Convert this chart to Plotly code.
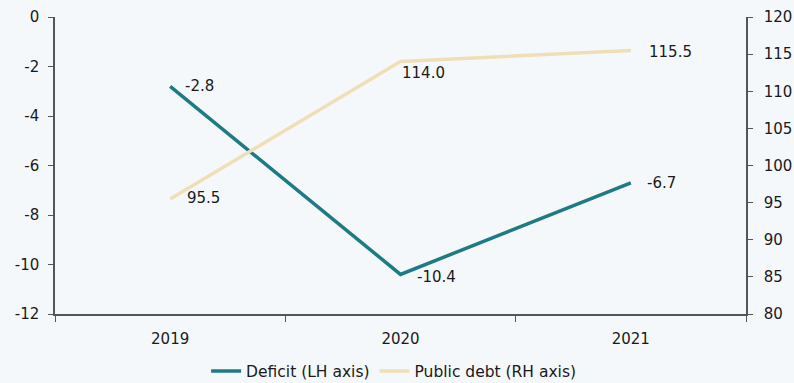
import plotly.graph_objects as go

years = ["2019", "2020", "2021"]
deficit = [-2.8, -10.4, -6.7]
debt = [95.5, 114.0, 115.5]
deficit_labels = ["-2.8", "-10.4", "-6.7"]
debt_labels = ["95.5", "114.0", "115.5"]
left_ticks = [0, -2, -4, -6, -8, -10, -12]
right_ticks = [80, 85, 90, 95, 100, 105, 110, 115, 120]

bg = "#F5F8FA"
axc = "#555555"
fam = "DejaVu Sans, Liberation Sans, Arial, sans-serif"
font = dict(family=fam, size=15, color="#1a1a1a")

fig = go.Figure()
fig.add_trace(go.Scatter(
    x=years, y=deficit, name="Deficit (LH axis)", mode="lines",
    line=dict(color="#1E7B85", width=3.5), yaxis="y"))
fig.add_trace(go.Scatter(
    x=years, y=debt, name="Public debt (RH axis)", mode="lines",
    line=dict(color="#F0DFB6", width=3.5), yaxis="y2"))

def_xshift = [13, 14, 14]
def_yshift = [0, -3, 0]
for i, (v, t) in enumerate(zip(deficit, deficit_labels)):
    fig.add_annotation(x=i, y=v, xref="x", yref="y", text=t, showarrow=False,
                       xanchor="left", yanchor="middle",
                       xshift=def_xshift[i], yshift=def_yshift[i],
                       font=dict(family=fam, size=15, color="#1a1a1a"))
debt_xshift = [15, -1, 16]
debt_yshift = [1, -11, -2]
for i, (v, t) in enumerate(zip(debt, debt_labels)):
    fig.add_annotation(x=i, y=v, xref="x", yref="y2", text=t, showarrow=False,
                       xanchor="left", yanchor="middle",
                       xshift=debt_xshift[i], yshift=debt_yshift[i],
                       font=dict(family=fam, size=15, color="#1a1a1a"))

fig.update_layout(
    width=794, height=383,
    paper_bgcolor=bg, plot_bgcolor=bg,
    margin=dict(l=55, r=48, t=17, b=69, autoexpand=False),
    font=font,
    showlegend=True,
    legend=dict(orientation="h", x=0.49, xanchor="center", yref="container", y=0.03, yanchor="middle",
                font=dict(family=fam, size=15.5, color="#1a1a1a"), bgcolor="rgba(0,0,0,0)"),
    xaxis=dict(type="category", range=[-0.5, 2.5], showline=True, linecolor=axc, linewidth=1.5,
               ticks="outside", tickson="boundaries", ticklen=6, tickcolor=axc,
               showgrid=False, zeroline=False, tickfont=font, automargin=False,
               ticklabelstandoff=10),
    yaxis=dict(range=[-12, 0], tickvals=left_ticks, ticktext=[str(v) for v in left_ticks],
               showline=True, linecolor=axc, linewidth=1.5,
               ticks="outside", ticklen=5, tickcolor=axc, showgrid=False, zeroline=False,
               tickfont=font, automargin=False, ticklabelstandoff=6),
    yaxis2=dict(range=[80, 120], tickvals=right_ticks, ticktext=[str(v) for v in right_ticks],
                overlaying="y", side="right", showline=True,
                linecolor=axc, linewidth=1.5, ticks="outside", ticklen=5, tickcolor=axc,
                showgrid=False, zeroline=False, tickfont=font, automargin=False,
                ticklabelstandoff=8),
)

fig.write_html("out.html", config={"displayModeBar": False},
               post_script="document.body.style.margin='0';")
